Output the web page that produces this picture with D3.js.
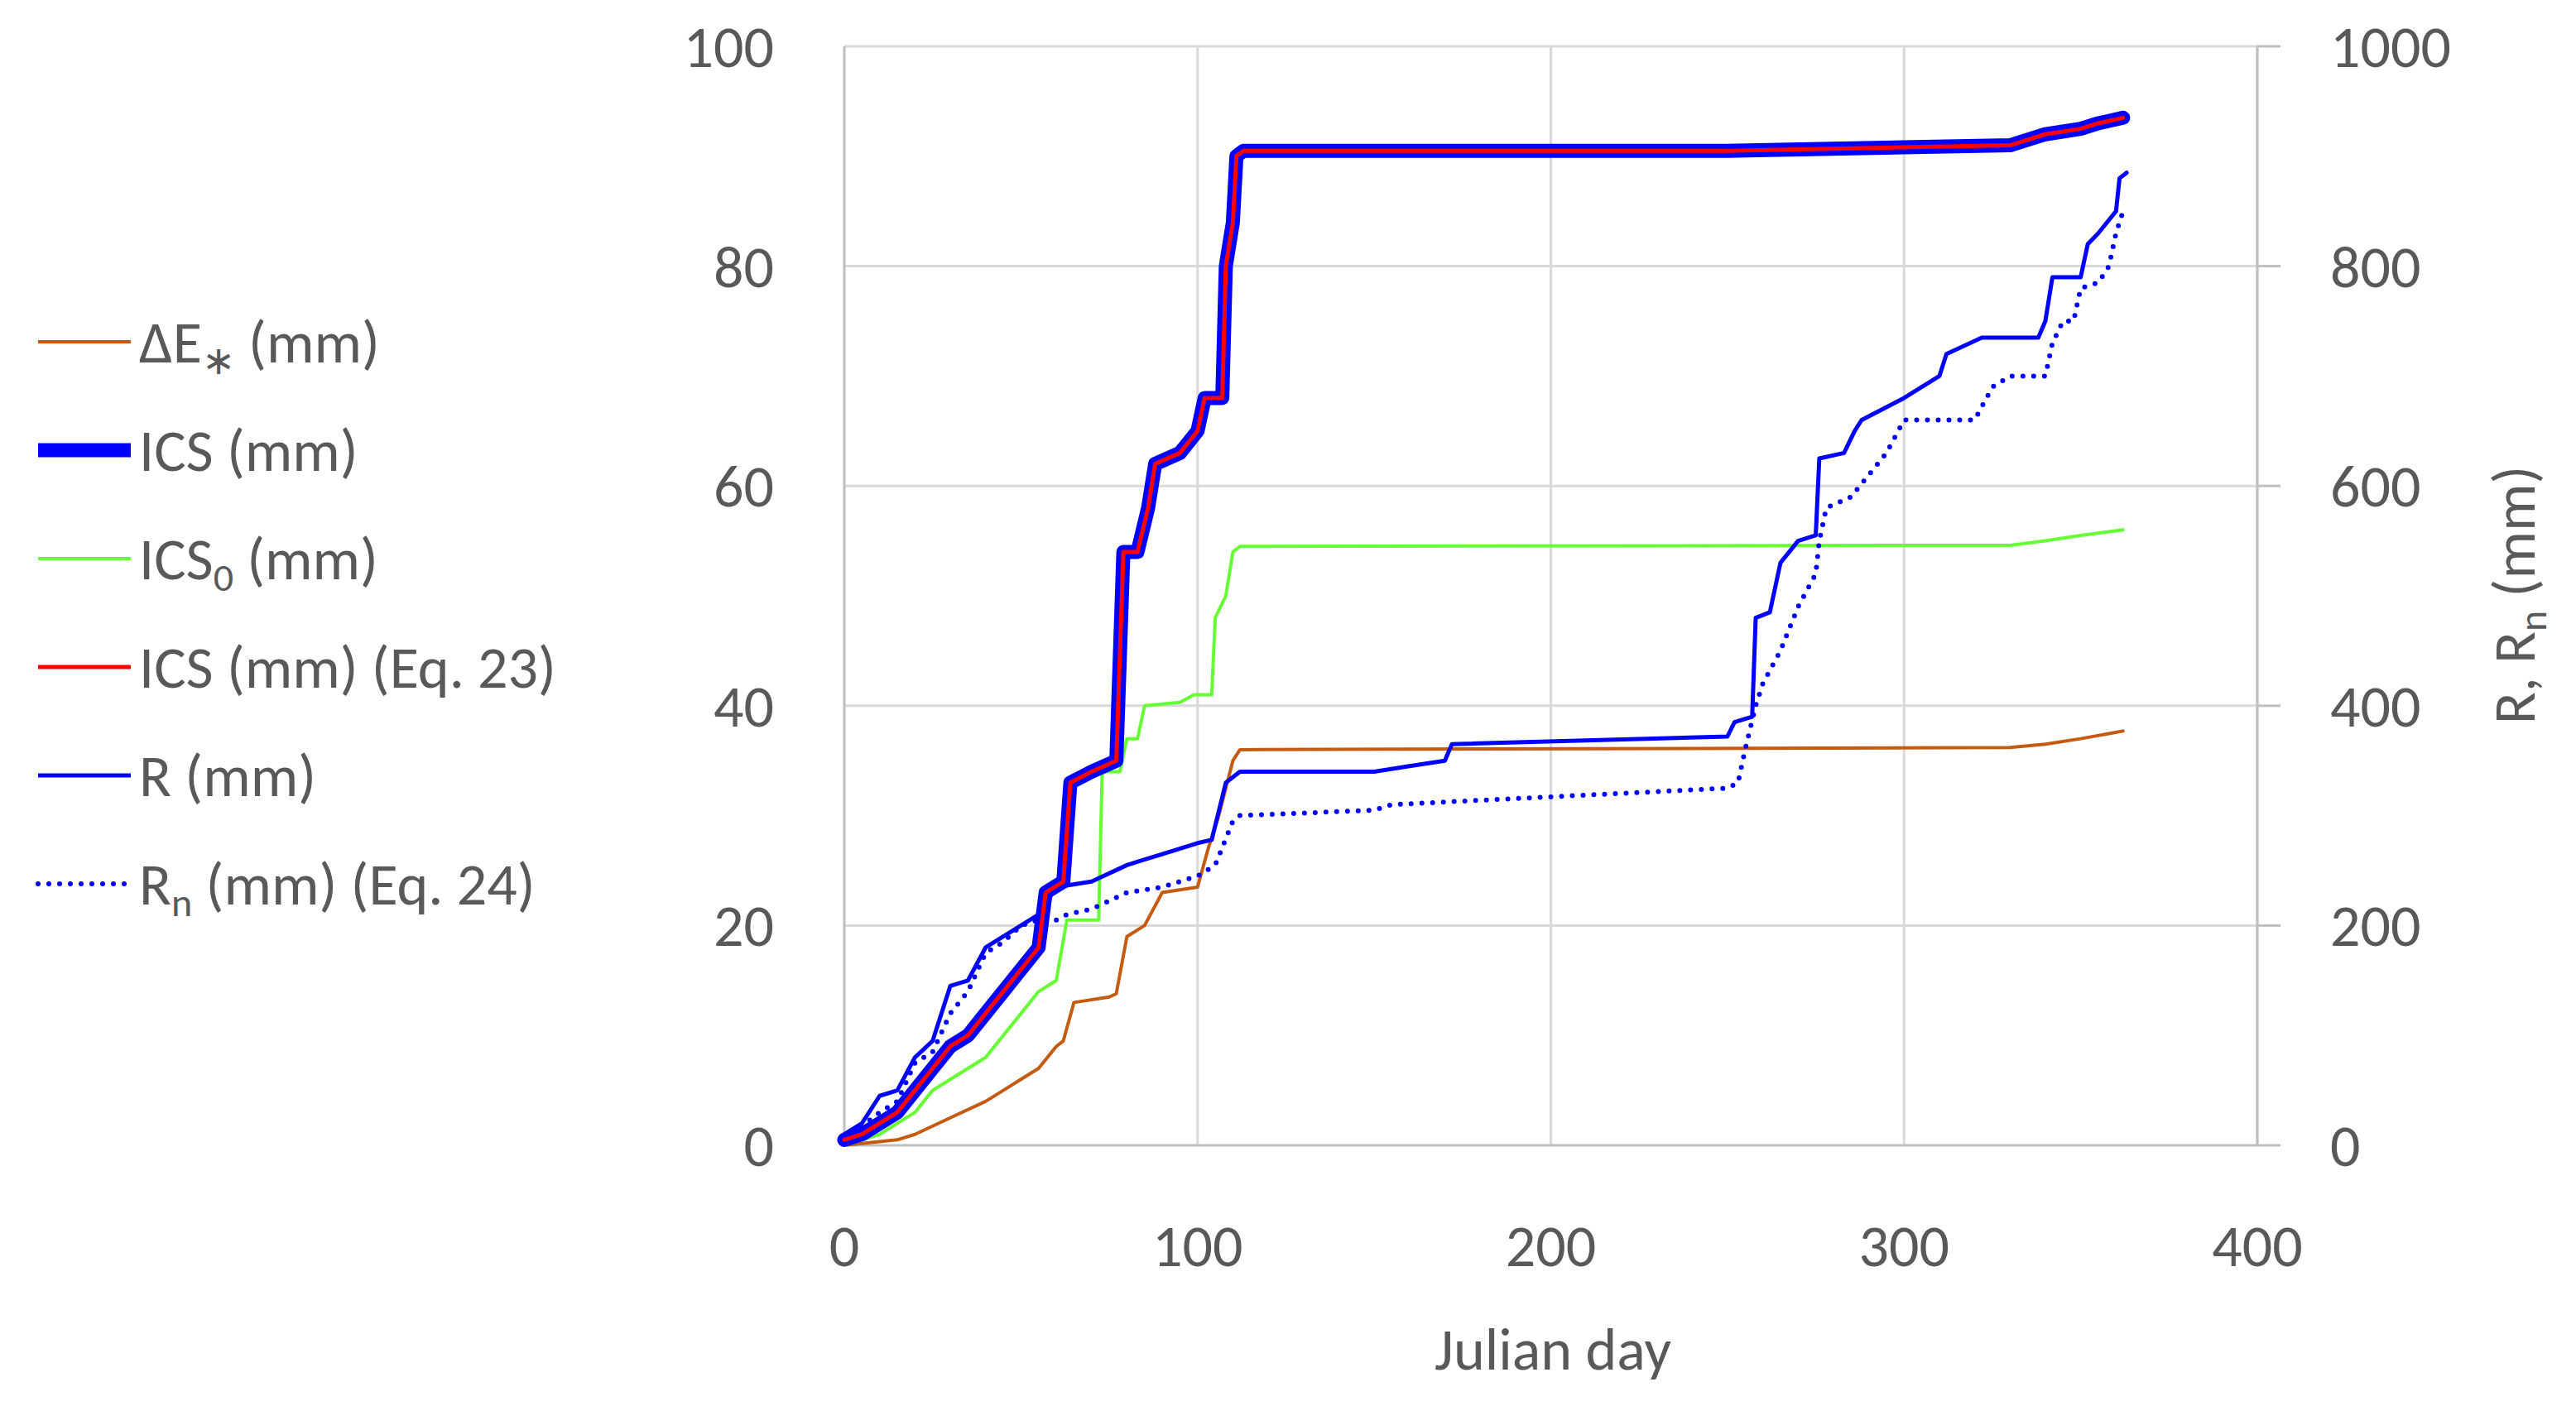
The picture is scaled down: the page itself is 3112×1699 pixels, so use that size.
<!DOCTYPE html><html><head><meta charset="utf-8">
<script src="https://cdn.jsdelivr.net/npm/d3@7/dist/d3.min.js"></script>
<style>body{margin:0;background:#fff}text{font-family:Calibri,"Liberation Sans","Open Sans",sans-serif;fill:#595959}</style></head><body>
<svg id="c" width="3112" height="1699"></svg>
<script>
const xTicks=[0,100,200,300,400], yTicks=[0,20,40,60,80,100], y2Ticks=[0,200,400,600,800,1000];
const dE=[[0,0],[15,0.5],[20,1],[30,2.5],[40,4],[45,5],[50,6],[55,7],[60,9],[62,9.5],[65,13],[75,13.5],[77,13.8],[80,19],[85,20],[90,23],[100,23.5],[103,27],[106,30],[110,35],[112,36],[330,36.2],[340,36.5],[350,37],[362,37.7]];
const ics=[[0,0.5],[5,1],[10,2],[15,3],[20,5],[25,7],[30,9],[35,10],[40,12],[45,14],[50,16],[55,18],[57,23],[62,24],[64,33],[70,34],[77,35],[79,54],[83,54],[86,58],[88,62],[95,63],[100,65],[102,68],[107,68],[108,80],[110,84],[111,90],[113,90.5],[250,90.5],[330,91],[340,92],[350,92.5],[355,93],[362,93.5]];
const ics0=[[0,0],[10,1],[20,3],[25,5],[30,6],[40,8],[45,10],[50,12],[55,14],[60,15],[63,20.5],[72,20.5],[73,34],[78,34],[80,37],[83,37],[85,40],[95,40.3],[99,41],[104,41],[105,48],[108,50],[110,54],[112,54.5],[330,54.6],[340,55],[350,55.5],[362,56]];
const R=[[0,10],[5,20],[10,45],[15,50],[20,80],[25,95],[30,145],[35,150],[40,180],[45,190],[50,200],[55,210],[60,235],[70,240],[80,255],[85,260],[90,265],[100,275],[104,278],[108,330],[112,340],[150,340],[160,345],[170,350],[172,365],[250,372],[252,385],[257,390],[258,480],[262,485],[265,530],[270,550],[275,555],[276,625],[283,630],[286,650],[288,660],[300,680],[310,700],[312,720],[322,735],[338,735],[340,750],[342,790],[350,790],[352,820],[355,830],[360,850],[361,880],[363,885]];
const Rn=[[0,5],[10,30],[15,40],[20,75],[25,85],[30,120],[35,140],[40,175],[45,185],[50,200],[55,205],[60,205],[63,210],[70,215],[80,230],[90,235],[100,245],[105,255],[110,295],[112,300],[150,305],[155,310],[250,325],[253,330],[255,360],[258,400],[260,420],[265,450],[270,490],[275,520],[276,550],[278,580],[285,590],[290,610],[295,630],[300,660],[320,660],[325,690],[330,700],[340,700],[342,730],[345,750],[348,750],[350,780],[355,785],[358,800],[360,830],[362,850]];

const svg=d3.select("#c");
const x=d3.scaleLinear([0,400],[1020,2727]);
const y=d3.scaleLinear([0,100],[1384,56]);
const y2=d3.scaleLinear([0,1000],[1384,56]);
svg.append("g").selectAll("line").data(yTicks.slice(1)).join("line").attr("x1",1020).attr("x2",2727).attr("y1",y).attr("y2",y).attr("stroke","#d9d9d9").attr("stroke-width",3);
svg.append("g").selectAll("line").data(xTicks.slice(1)).join("line").attr("x1",x).attr("x2",x).attr("y1",56).attr("y2",1384).attr("stroke","#d9d9d9").attr("stroke-width",3);
svg.append("line").attr("x1",1020).attr("x2",1020).attr("y1",56).attr("y2",1384).attr("stroke","#bfbfbf").attr("stroke-width",3);
svg.append("line").attr("x1",1020).attr("x2",2727).attr("y1",1384).attr("y2",1384).attr("stroke","#bfbfbf").attr("stroke-width",3);
svg.append("line").attr("x1",2727).attr("x2",2727).attr("y1",56).attr("y2",1384).attr("stroke","#bfbfbf").attr("stroke-width",3);
svg.append("g").selectAll("line").data(y2Ticks).join("line").attr("x1",2727).attr("x2",2755).attr("y1",y2).attr("y2",y2).attr("stroke","#bfbfbf").attr("stroke-width",3);
svg.append("g").selectAll("text").data(yTicks).join("text").attr("x",935).attr("y",d=>y(d)+25).attr("text-anchor","end").attr("font-size",72).text(d=>d);
svg.append("g").selectAll("text").data(y2Ticks).join("text").attr("x",2815).attr("y",d=>y2(d)+25).attr("font-size",72).text(d=>d);
svg.append("g").selectAll("text").data(xTicks).join("text").attr("x",x).attr("y",1530).attr("text-anchor","middle").attr("font-size",72).text(d=>d);
svg.append("text").attr("x",1876).attr("y",1655).attr("text-anchor","middle").attr("font-size",72).text("Julian day");
const rt=svg.append("text").attr("transform","translate(3062,719) rotate(-90)").attr("text-anchor","middle").attr("font-size",72);
rt.append("tspan").text("R, R");rt.append("tspan").attr("font-size",48).attr("dy",14).text("n");rt.append("tspan").attr("dy",-14).text(" (mm)");

const line=d3.line().x(d=>x(d[0])).y(d=>y(d[1]));
const line2=d3.line().x(d=>x(d[0])).y(d=>y2(d[1]));
const P=(d,g,c,w,da)=>svg.append("path").attr("d",g(d)).attr("fill","none").attr("stroke",c).attr("stroke-width",w).attr("stroke-linecap","round").attr("stroke-linejoin","round").attr("stroke-dasharray",da||null);
P(dE,line,"#c55a11",4);
P(ics0,line,"#66ff33",4);
P(Rn,line2,"#0000ff",6,"0 13");
P(R,line2,"#0000ff",5);
P(ics,line,"#0000ff",17);
P(ics,line,"#ff0000",5);

const leg=[{c:"#c55a11",w:4,t:[["ΔE",0],["∗",1],[" (mm)",0]]},{c:"#0000ff",w:17,t:[["ICS (mm)",0]]},{c:"#66ff33",w:4,t:[["ICS",0],["0",1],[" (mm)",0]]},{c:"#ff0000",w:5,t:[["ICS (mm) (Eq. 23)",0]]},{c:"#0000ff",w:5,t:[["R (mm)",0]]},{c:"#0000ff",w:6,da:"0 13",t:[["R",0],["n",1],[" (mm) (Eq. 24)",0]]}];
leg.forEach((l,i)=>{const yy=413+i*131;
 svg.append("line").attr("x1",46).attr("x2",158).attr("y1",yy).attr("y2",yy).attr("stroke",l.c).attr("stroke-width",l.w).attr("stroke-dasharray",l.da||null).attr("stroke-linecap",l.da?"round":"butt");
 const t=svg.append("text").attr("x",168).attr("y",yy+25).attr("font-size",72);
 let prev=0;l.t.forEach(([s,sub])=>{const dy=(sub?14:0)-prev;prev=sub?14:0;t.append("tspan").attr("dy",dy).attr("font-size",sub?48:72).text(s);});
});
</script></body></html>
